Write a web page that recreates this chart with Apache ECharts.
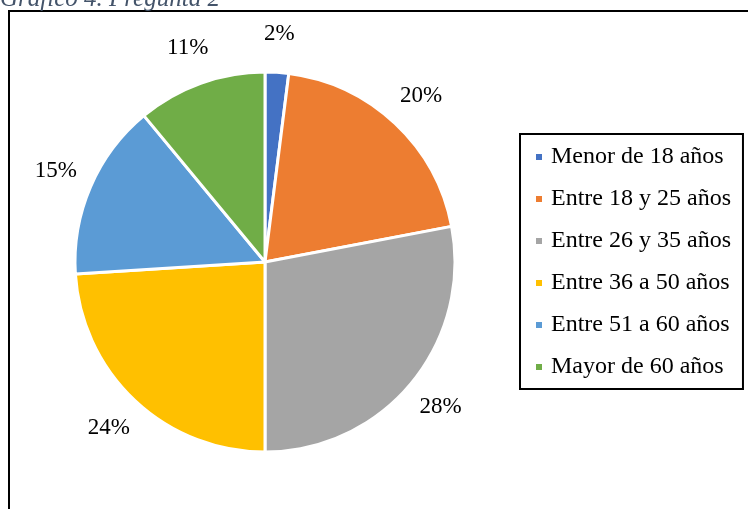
<!DOCTYPE html>
<html>
<head>
<meta charset="utf-8">
<script src="https://cdn.jsdelivr.net/npm/echarts@6/dist/echarts.min.js"></script>
<style>
html,body{margin:0;padding:0;background:#fff;}
#chart{width:748px;height:509px;}
</style>
</head>
<body>
<div id="chart"></div>
<script>
// Gráfico 4 - edades
var categorias = ['Menor de 18 años', 'Entre 18 y 25 años', 'Entre 26 y 35 años', 'Entre 36 a 50 años', 'Entre 51 a 60 años', 'Mayor de 60 años'];
var valores = [2, 20, 28, 24, 15, 11];
var colores = ['#4472c4', '#ed7d31', '#a5a5a5', '#ffc000', '#5b9bd5', '#70ad47'];

var datos = [];
for (var i = 0; i < categorias.length; i++) {
    datos.push({name: categorias[i], value: valores[i]});
}

var myChart = echarts.init(document.getElementById('chart'));
myChart.setOption({
    color: colores,
    animation: false,
    legend: {
        orient: 'vertical',
        left: 520,
        top: 134,
        padding: [11, 12, 10, 14],
        itemGap: 18,
        itemWidth: 8,
        itemHeight: 8,
        icon: 'rect',
        borderColor: '#000',
        borderWidth: 2,
        textStyle: {
            fontFamily: 'Liberation Serif',
            fontSize: 24,
            lineHeight: 24,
            color: '#000',
            padding: [0, 0, 0, 3]
        },
        data: categorias
    },
    graphic: [
        {
            type: 'line',
            shape: {x1: 8, y1: 11, x2: 748, y2: 11},
            style: {stroke: '#000', lineWidth: 2}
        },
        {
            type: 'line',
            shape: {x1: 9, y1: 10, x2: 9, y2: 509},
            style: {stroke: '#000', lineWidth: 2}
        },
        {
            type: 'text',
            x: 0,
            y: 12,
            style: {
                text: 'Gráfico 4. Pregunta 2',
                font: 'italic 25px "Liberation Serif"',
                fill: '#44546a',
                verticalAlign: 'bottom'
            }
        }
    ],
    series: [
        {
            name: 'Edad',
            type: 'pie',
            center: [265, 262],
            radius: [0, 190],
            startAngle: 90,
            itemStyle: {
                borderColor: '#fff',
                borderWidth: 3
            },
            label: {show: false},
            labelLine: {show: false},
            data: datos
        },
        {
            // capa invisible solo para colocar las etiquetas centradas fuera del círculo
            name: 'Etiquetas',
            type: 'pie',
            center: [265, 262],
            radius: [0, 450],
            startAngle: 90,
            silent: true,
            z: 3,
            itemStyle: {color: 'rgba(0,0,0,0)', borderWidth: 0},
            label: {
                show: true,
                position: 'inside',
                formatter: '{c}%',
                fontFamily: 'Liberation Serif',
                fontSize: 23,
                color: '#000'
            },
            labelLine: {show: false},
            data: datos
        }
    ]
});
</script>
</body>
</html>
